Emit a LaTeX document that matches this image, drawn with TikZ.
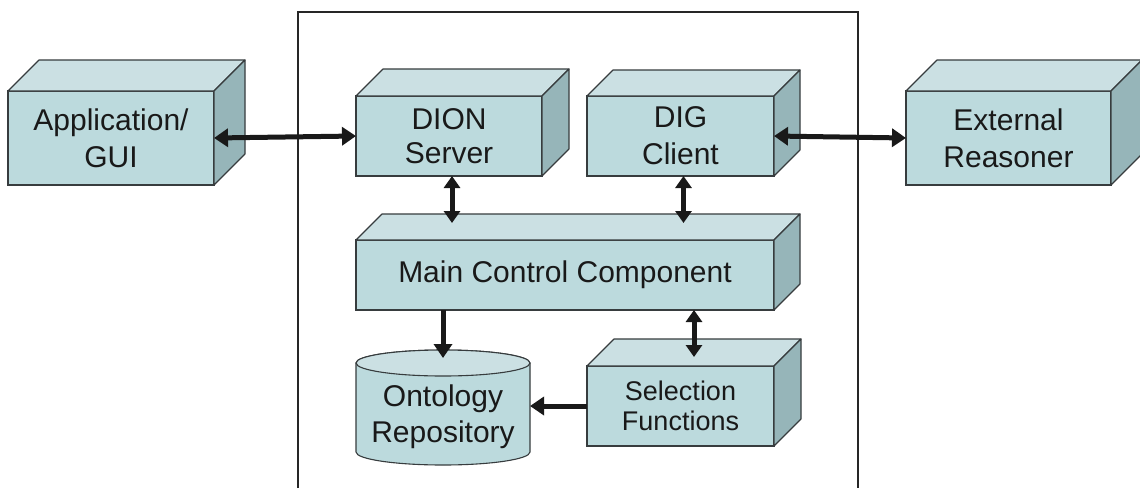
\documentclass[tikz,border=0pt]{standalone}
\usepackage{fontspec}
\setmainfont{Liberation Sans}
\usetikzlibrary{arrows.meta,calc}

\definecolor{frontcol}{RGB}{188,218,221}
\definecolor{topcol}{RGB}{203,224,227}
\definecolor{sidecol}{RGB}{150,181,185}
\definecolor{edgecol}{RGB}{55,60,62}
\definecolor{inkcol}{RGB}{25,25,25}

\tikzset{
  block/.style={draw=edgecol, fill=frontcol, line width=1.1pt, outer sep=0pt,
    inner sep=0pt, align=center, text=inkcol,
    font=\fontsize{30}{37}\selectfont},
  topface/.style={draw=edgecol, fill=topcol, line width=1.1pt, line join=round},
  sideface/.style={draw=edgecol, fill=sidecol, line width=1.1pt, line join=round},
  link/.style={line width=5pt, draw=black!90,
    arrows={-{Triangle[length=14pt,width=18pt]}}},
  dlink/.style={line width=5pt, draw=black!90,
    arrows={{Triangle[length=14pt,width=18pt]}-{Triangle[length=14pt,width=18pt]}}},
  vlink/.style={line width=5pt, draw=black!90,
    arrows={{Triangle[length=12pt,width=16pt]}-{Triangle[length=12pt,width=16pt]}}},
}

% top and right faces of a 3-D box whose front face is node #1, depth #2
\newcommand\boxfaces[2]{%
  \path[topface] (#1.north west) -- ++(#2,-#2) -- ($(#1.north east)+(#2,-#2)$)
    -- (#1.north east) -- cycle;
  \path[sideface] (#1.north east) -- ++(#2,-#2) -- ($(#1.south east)+(#2,-#2)$)
    -- (#1.south east) -- cycle;
}

\begin{document}
\begin{tikzpicture}[x=1pt,y=-1pt]
\useasboundingbox[fill=white] (0,0) rectangle (1140,488);

% system frame
\draw[line width=1.3pt, black!85] (298,488) -- (298,12) -- (858,12) -- (858,488);

% boxes
\node[block, minimum width=206pt, minimum height=94pt] (app) at (111,138) {Application/\\GUI};
\boxfaces{app}{31}

\node[block, minimum width=186pt, minimum height=80pt,
  font=\fontsize{30}{34}\selectfont, text depth=0pt] (dion) at (449,136) {DION\\Server};
\boxfaces{dion}{27}

\node[block, minimum width=187pt, minimum height=80pt] (dig) at (680.5,136) {DIG\\Client};
\boxfaces{dig}{26}

\node[block, minimum width=205pt, minimum height=94pt] (ext) at (1008.5,138) {External\\Reasoner};
\boxfaces{ext}{31}

\node[block, minimum width=418pt, minimum height=70pt] (main) at (565,275) {Main Control Component};
\boxfaces{main}{26}

\node[block, minimum width=187pt, minimum height=80pt,
  font=\fontsize{27}{30}\selectfont] (sel) at (680.5,406) {Selection\\Functions};
\boxfaces{sel}{27}

% ontology repository cylinder
\path[draw=edgecol, fill=frontcol, line width=1.1pt]
  (356,363) -- (356,452)
  arc[start angle=180, end angle=360, x radius=87pt, y radius=13pt]
  -- (530,363)
  arc[start angle=0, end angle=180, x radius=87pt, y radius=13pt] -- cycle;
\path[draw=edgecol, fill=topcol, line width=1.1pt]
  (443,363) ellipse[x radius=87pt, y radius=13pt];
\node[align=center, text=inkcol, font=\fontsize{30}{36}\selectfont,
  minimum width=174pt, minimum height=84pt, inner sep=0pt, outer sep=0pt]
  (onto) at (443,417) {Ontology\\Repository};

% anchor points on the top faces and under the upper boxes
\coordinate (mainroof) at (565,223);
\coordinate (selroof) at (694,357);
\coordinate (ontotop) at (443,358);
\coordinate (dionfoot) at ($(dion.south)+(3,0)$);
\coordinate (digfoot) at ($(dig.south)+(3,0)$);

% connectors
\draw[dlink] (app.east) -- (dion.west);
\draw[dlink] (dig.east) -- (ext.west);
\draw[vlink] (dionfoot) -- (dionfoot |- mainroof);
\draw[vlink] (digfoot) -- (digfoot |- mainroof);
\draw[link] (main.south -| ontotop) -- (ontotop);
\draw[vlink] (main.south -| selroof) -- (selroof);
\draw[link] (sel.west) -- (sel.west -| onto.east);
\end{tikzpicture}
\end{document}
